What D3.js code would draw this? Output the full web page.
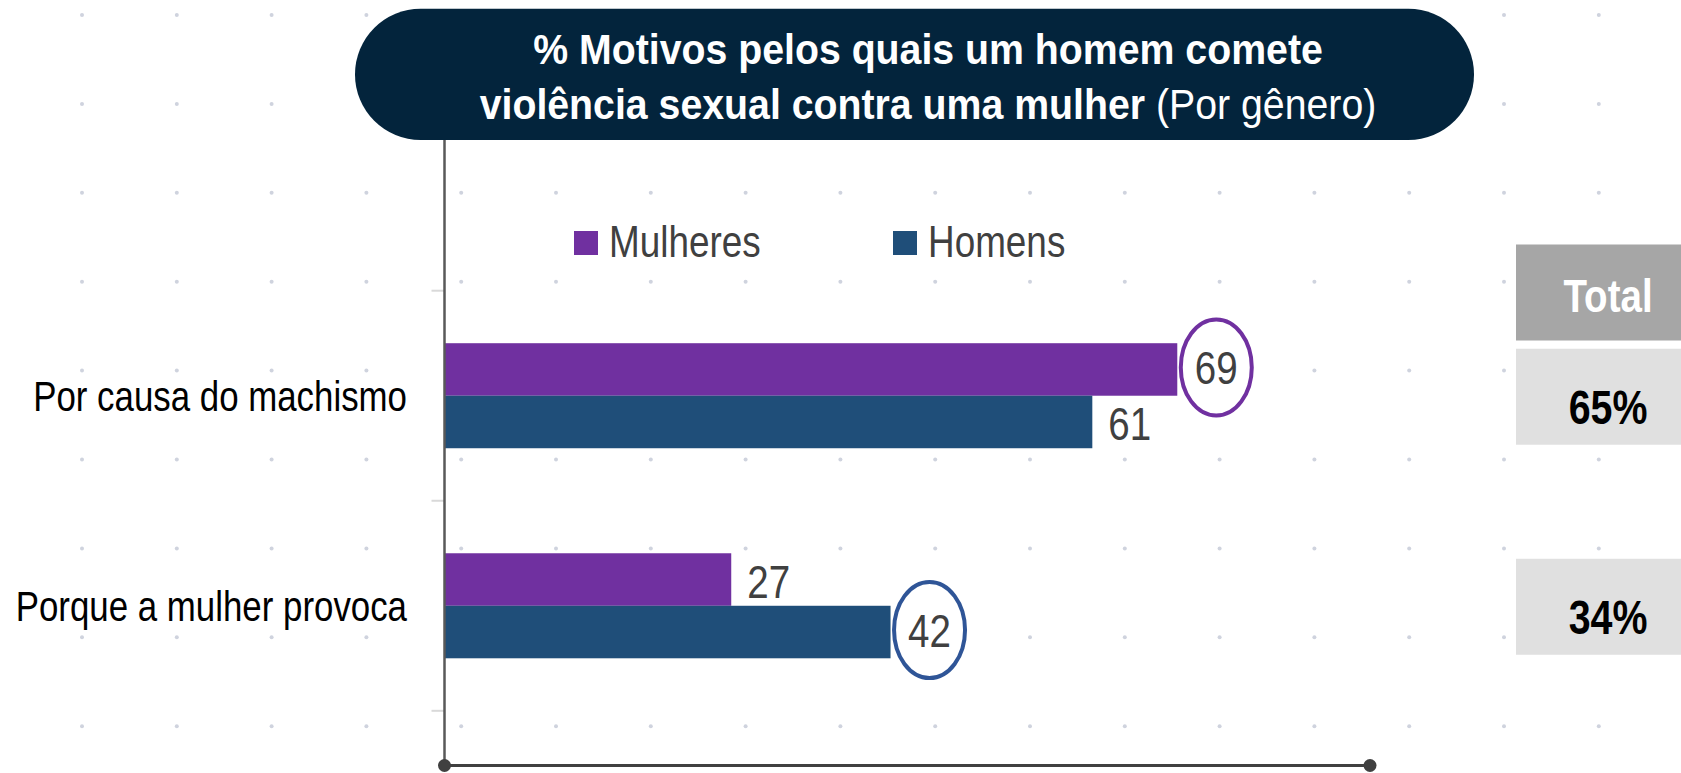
<!DOCTYPE html>
<html>
<head>
<meta charset="utf-8">
<script src="https://cdnjs.cloudflare.com/ajax/libs/d3/7.8.5/d3.min.js"></script>
<style>
  html, body { margin: 0; padding: 0; background: #fff; overflow: hidden; }
  text { font-family: 'Liberation Sans', Arial, sans-serif; }
</style>
</head>
<body>
<div id="chart"></div>
<script>
var
    width = 1681,
    height = 773;

// data
var categories = ["Por causa do machismo", "Porque a mulher provoca"];
var series = ["Mulheres", "Homens"];
var mulheres = [69, 27];
var homens = [61, 42];
var totals = [65, 34];

var seriesColor = { "Mulheres": "#7030a0", "Homens": "#1f4e79" };
var ringColor = { "Mulheres": "#7030a0", "Homens": "#2f5597" };

var rows = categories.map(function(c, i) {
  return { cat: c, values: [
    { key: "Mulheres", value: mulheres[i] },
    { key: "Homens", value: homens[i] }
  ], total: totals[i] };
});

// no narrow font installed, so squeeze Liberation Sans instead
var NARROW = 0.82;
function place(sel, fx, fy, sx) {
  sel.attr("transform", function(d, i) {
    return "translate(" + fx(d, i) + "," + fy(d, i) + ") scale(" + (sx || NARROW) + ",1)";
  });
}

var svg = d3.select("#chart")
    .append("svg")
    .attr("width", width)
    .attr("height", height);

// dotted background
var dotX = d3.range(82, width, 94.8),
    dotY = d3.range(15, height, 88.9);
svg.append("g")
  .selectAll("circle")
  .data(d3.cross(dotX, dotY))
  .enter().append("circle")
    .attr("cx", d => d[0])
    .attr("cy", d => d[1])
    .attr("r", 2)
    .attr("fill", "#cfd3de");

var x = d3.scaleLinear()
    .domain([0, 100])
    .range([444.5, 1506.5]);

var y = d3.scaleBand()
    .domain(categories)
    .range([290.7, 710.8])
    .paddingInner(0.5)
    .paddingOuter(0.25);

var y1 = d3.scaleBand()
    .domain(series)
    .range([0, y.bandwidth()]);

// y ticks at band boundaries
var gap = (y.step() - y.bandwidth()) / 2;
var tickYs = categories.map(c => y(c) - gap).concat([y(categories[categories.length - 1]) + y.bandwidth() + gap]);
svg.append("g")
  .selectAll("line")
  .data(tickYs)
  .enter().append("line")
    .attr("x1", x(0) - 13).attr("x2", x(0))
    .attr("y1", d => d).attr("y2", d => d)
    .attr("stroke", "#d9d9d9")
    .attr("stroke-width", 2);

// category labels
svg.append("g")
  .selectAll("text")
  .data(categories)
  .enter().append("text")
    .call(place, () => 407, d => y(d) + y.bandwidth() / 2 + 15)
    .attr("text-anchor", "end")
    .attr("font-size", 42.5)
    .attr("fill", "#000")
    .text(d => d);

// bars
var group = svg.append("g")
  .selectAll("g")
  .data(rows)
  .enter().append("g")
    .attr("transform", d => "translate(0," + y(d.cat) + ")");

group.selectAll("rect")
  .data(d => d.values)
  .enter().append("rect")
    .attr("x", x(0))
    .attr("y", d => y1(d.key))
    .attr("width", d => x(d.value) - x(0))
    .attr("height", y1.bandwidth())
    .attr("fill", d => seriesColor[d.key]);

// value labels; the biggest value of each row gets a ring
group.each(function(r) {
  var g = d3.select(this);
  var top = d3.max(r.values, v => v.value);
  r.values.forEach(function(v) {
    var cy = y1(v.key) + y1.bandwidth() / 2;
    if (v.value === top) {
      var cx = x(v.value) + 39;
      g.append("ellipse")
        .attr("cx", cx).attr("cy", cy - 2)
        .attr("rx", 35.5).attr("ry", 48)
        .attr("fill", "#fff")
        .attr("stroke", ringColor[v.key])
        .attr("stroke-width", 4);
      g.append("text")
        .call(place, () => cx, () => cy + 15)
        .attr("text-anchor", "middle")
        .attr("font-size", 47)
        .attr("fill", "#404040")
        .text(v.value);
    } else {
      g.append("text")
        .call(place, () => x(v.value) + 16, () => cy + 18)
        .attr("font-size", 47)
        .attr("fill", "#404040")
        .text(v.value);
    }
  });
});

// axes
svg.append("line")
    .attr("x1", x(0)).attr("x2", x(0))
    .attr("y1", 140).attr("y2", 765.5)
    .attr("stroke", "#595959")
    .attr("stroke-width", 2.5);

svg.append("line")
    .attr("x1", x(0)).attr("x2", 1370)
    .attr("y1", 765.5).attr("y2", 765.5)
    .attr("stroke", "#404040")
    .attr("stroke-width", 3);

svg.selectAll(".end-dot")
  .data([x(0), 1370])
  .enter().append("circle")
    .attr("class", "end-dot")
    .attr("cx", d => d).attr("cy", 765.5)
    .attr("r", 6.5)
    .attr("fill", "#404040");

// legend
var legend = svg.append("g")
  .selectAll("g")
  .data(series)
  .enter().append("g")
    .attr("transform", (d, i) => "translate(" + [574, 893][i] + ",231)");

legend.append("rect")
    .attr("width", 24).attr("height", 24)
    .attr("fill", d => seriesColor[d]);

legend.append("text")
    .call(place, () => 35, () => 26)
    .attr("font-size", 45)
    .attr("fill", "#404040")
    .text(d => d);

// title pill
svg.append("rect")
    .attr("x", 355).attr("y", 8.7)
    .attr("width", 1119).attr("height", 131.3)
    .attr("rx", 65.6).attr("ry", 65.6)
    .attr("fill", "#03243c");

var title = svg.append("text")
    .call(place, () => 928, () => 0, 0.935)
    .attr("text-anchor", "middle")
    .attr("font-size", 42)
    .attr("fill", "#fff");

title.append("tspan")
    .attr("x", 0).attr("y", 64)
    .attr("font-weight", "bold")
    .text("% Motivos pelos quais um homem comete");

var l2 = title.append("tspan")
    .attr("x", 0).attr("y", 119);
l2.append("tspan").attr("font-weight", "bold").text("violência sexual contra uma mulher");
l2.append("tspan").text(" (Por gênero)");

// total column
svg.append("rect")
    .attr("x", 1516).attr("y", 244.5)
    .attr("width", 184).attr("height", 96)
    .attr("fill", "#a6a6a6");

svg.append("text")
    .call(place, () => 1608, () => 312)
    .attr("text-anchor", "middle")
    .attr("font-size", 47)
    .attr("font-weight", "bold")
    .attr("fill", "#fff")
    .text("Total");

var tot = svg.append("g")
  .selectAll("g")
  .data(rows)
  .enter().append("g")
    .attr("transform", d => "translate(1516," + (y(d.cat) + y.bandwidth() / 2 - 47) + ")");

tot.append("rect")
    .attr("width", 184).attr("height", 96)
    .attr("fill", "#e0e0e0");

tot.append("text")
    .call(place, () => 92, () => 75)
    .attr("text-anchor", "middle")
    .attr("font-size", 48)
    .attr("font-weight", "bold")
    .attr("fill", "#000")
    .text(d => d.total + "%");
</script>
</body>
</html>
